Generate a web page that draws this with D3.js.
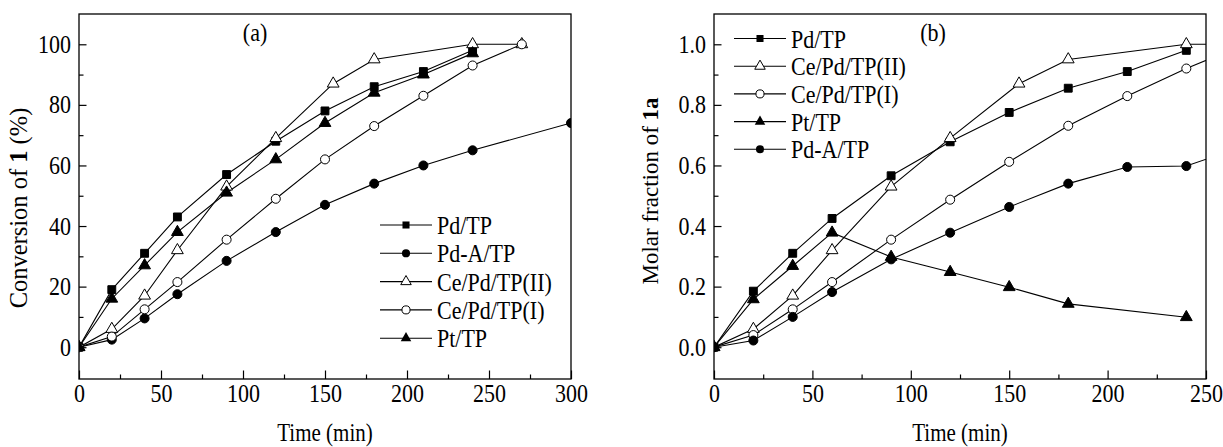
<!DOCTYPE html>
<html>
<head>
<meta charset="utf-8">
<script src="https://cdn.jsdelivr.net/npm/d3@7"></script>
<style>
  body { margin: 0; background: #fff; }
  svg { font-family: "Liberation Serif", "Times New Roman", serif; }
</style>
</head>
<body>
<svg id="chart" width="1223" height="447"></svg>
<script>
// ---- panel (a): conversion of 1 (%) ----
var timeA     = [0, 20, 40, 60, 90, 120, 150, 180, 210, 240];
var pdTP_a    = [0, 19, 31, 43, 57, 68, 78, 86, 91, 98];
var ptTP_a    = [0, 16, 27, 38, 51, 62, 74, 84, 90, 97];
var ceII_a_t  = [0, 20, 40, 60, 90, 120, 155, 180, 240, 270];
var ceII_a    = [0, 6, 17, 32, 53, 69, 87, 95, 100, 100];
var ceI_a_t   = [0, 20, 40, 60, 90, 120, 150, 180, 210, 240, 270];
var ceI_a     = [0, 3.5, 12.5, 21.5, 35.5, 49, 62, 73, 83, 93, 100];
var pdA_a_t   = [0, 20, 40, 60, 90, 120, 150, 180, 210, 240, 300];
var pdA_a     = [0, 2.5, 9.5, 17.5, 28.5, 38, 47, 54, 60, 65, 74];

// ---- panel (b): molar fraction of 1a ----
var timeB     = [0, 20, 40, 60, 90, 120, 150, 180, 210, 240];
var pdTP_b    = [0, 0.185, 0.31, 0.425, 0.566, 0.678, 0.775, 0.855, 0.91, 0.98];
var ceII_b_t  = [0, 20, 40, 60, 90, 120, 155, 180, 240, 270];
var ceII_b    = [0, 0.06, 0.17, 0.32, 0.53, 0.69, 0.87, 0.95, 1.0, 1.0];
var ceI_b_t   = [0, 20, 40, 60, 90, 120, 150, 180, 210, 240, 270];
var ceI_b     = [0, 0.04, 0.125, 0.215, 0.355, 0.487, 0.612, 0.731, 0.829, 0.92, 1.0];
var ptTP_b_t  = [0, 20, 40, 60, 90, 120, 150, 180, 240];
var ptTP_b    = [0, 0.158, 0.268, 0.378, 0.298, 0.248, 0.198, 0.143, 0.099];
var pdA_b_t   = [0, 20, 40, 60, 90, 120, 150, 180, 210, 240, 270];
var pdA_b     = [0, 0.022, 0.1, 0.182, 0.29, 0.378, 0.463, 0.54, 0.595, 0.598, 0.665];

// tick labels
var xTicksA = [0, 50, 100, 150, 200, 250, 300];
var yTicksA = [0, 20, 40, 60, 80, 100];
var xTicksB = [0, 50, 100, 150, 200, 250];
var yTicksB = [0, 0.2, 0.4, 0.6, 0.8, 1.0];

var svg = d3.select('#chart');
var fontSize = 22;
var stretch = 1.15; // the source figure's lettering is a bit taller than wide

// marker styles
var markers = {
    square:    {type: d3.symbolSquare, size: 62, fill: '#000'},
    circle:    {type: d3.symbolCircle, size: 64, fill: '#000'},
    triUp:     {type: d3.symbolTriangle, size: 60, fill: '#000'},
    openTri:   {type: d3.symbolTriangle, size: 60, fill: '#fff'},
    openCirc:  {type: d3.symbolCircle, size: 64, fill: '#fff'}
};

function zip(ts, vs) {
    return ts.map(function (t, i) { return {t: t, v: vs[i]}; });
}

// text placed at (x, y) and stretched vertically
function tallText(parent, x, y, sy) {
    return parent.append('text')
        .attr('transform', 'translate(' + x + ',' + y + ') scale(1,' + sy + ')')
        .attr('font-size', fontSize)
        .attr('fill', '#000');
}

function styleTicks(s) {
    s.select('.domain').remove();
    s.selectAll('text')
        .attr('font-size', fontSize)
        .attr('font-family', 'Liberation Serif')
        .attr('fill', '#000')
        .attr('transform', 'scale(1,' + stretch + ')');
}

function drawPanel(cfg) {
    var g = svg.append('g');
    var x = d3.scaleLinear().domain(cfg.xDomain).range([cfg.left, cfg.right]);
    var y = d3.scaleLinear().domain(cfg.yDomain).range([cfg.bottom, cfg.top]);

    var clipId = 'clip-' + cfg.id;
    svg.append('clipPath').attr('id', clipId)
        .append('rect')
        .attr('x', cfg.left).attr('y', cfg.top)
        .attr('width', cfg.right - cfg.left).attr('height', cfg.bottom - cfg.top);

    // minor ticks
    g.append('g')
        .attr('transform', 'translate(0,' + cfg.bottom + ')')
        .call(d3.axisBottom(x).tickValues(cfg.xMinor).tickSizeInner(-4.5).tickSizeOuter(0).tickFormat(''))
        .call(function (s) { s.select('.domain').remove(); });
    g.append('g')
        .attr('transform', 'translate(' + cfg.left + ',0)')
        .call(d3.axisLeft(y).tickValues(cfg.yMinor).tickSizeInner(-4.5).tickSizeOuter(0).tickFormat(''))
        .call(function (s) { s.select('.domain').remove(); });

    // major ticks + labels
    g.append('g')
        .attr('transform', 'translate(0,' + cfg.bottom + ')')
        .call(d3.axisBottom(x).tickValues(cfg.xTicks).tickSizeInner(-8.5).tickSizeOuter(0).tickPadding(4))
        .call(styleTicks);
    g.append('g')
        .attr('transform', 'translate(' + cfg.left + ',0)')
        .call(d3.axisLeft(y).tickValues(cfg.yTicks).tickSizeInner(-7.5).tickSizeOuter(0).tickPadding(8)
            .tickFormat(cfg.yFormat))
        .call(styleTicks);
    g.selectAll('.tick line').attr('stroke', '#000').attr('stroke-width', 1.2);

    // series
    var line = d3.line().x(function (d) { return x(d.t); }).y(function (d) { return y(d.v); });
    var plot = g.append('g').attr('clip-path', 'url(#' + clipId + ')');
    cfg.series.forEach(function (s) {
        plot.append('path')
            .datum(zip(s.t, s.v))
            .attr('d', line)
            .attr('fill', 'none')
            .attr('stroke', '#000')
            .attr('stroke-width', 1.1);
    });
    cfg.series.forEach(function (s) {
        var m = markers[s.marker];
        plot.selectAll(null)
            .data(zip(s.t, s.v))
            .enter()
            .append('path')
            .attr('d', d3.symbol().type(m.type).size(m.size))
            .attr('transform', function (d) { return 'translate(' + x(d.t) + ',' + y(d.v) + ')'; })
            .attr('fill', m.fill)
            .attr('stroke', '#000')
            .attr('stroke-width', 1);
    });

    // frame
    g.append('rect')
        .attr('x', cfg.left).attr('y', cfg.top)
        .attr('width', cfg.right - cfg.left).attr('height', cfg.bottom - cfg.top)
        .attr('fill', 'none').attr('stroke', '#000').attr('stroke-width', 1.3);

    // legend
    cfg.legendOrder.forEach(function (name, i) {
        var s = cfg.series.filter(function (d) { return d.name === name; })[0];
        var m = markers[s.marker];
        var ly = cfg.legendY + i * cfg.legendStep;
        var lx = cfg.legendX;
        g.append('line').attr('x1', lx).attr('x2', lx + 52).attr('y1', ly).attr('y2', ly)
            .attr('stroke', '#000').attr('stroke-width', 1.1);
        g.append('path')
            .attr('d', d3.symbol().type(m.type).size(m.size * 0.8))
            .attr('transform', 'translate(' + (lx + 26) + ',' + ly + ')')
            .attr('fill', m.fill).attr('stroke', m.fill === '#fff' ? '#000' : 'none')
            .attr('stroke-width', 1);
        tallText(g, lx + 57, ly + 9, stretch).text(name);
    });

    // panel tag
    tallText(g, cfg.tagX, 41, stretch)
        .attr('text-anchor', 'middle')
        .text(cfg.tag);

    // axis titles
    tallText(g, (cfg.left + cfg.right) / 2, 441, stretch)
        .attr('text-anchor', 'middle')
        .attr('font-size', 21)
        .text('Time (min)');

    var yl = g.append('text')
        .attr('transform', 'translate(' + cfg.yLabelX + ',' + cfg.yLabelY + ') rotate(-90)')
        .attr('text-anchor', 'middle')
        .attr('font-size', cfg.yLabelSize);
    cfg.yLabel.forEach(function (part) {
        yl.append('tspan').attr('font-weight', part.bold ? 'bold' : 'normal').text(part.text);
    });
}

drawPanel({
    id: 'a', left: 79, right: 571, top: 14, bottom: 379,
    xDomain: [0, 300], yDomain: [-10.5, 110],
    xTicks: xTicksA, yTicks: yTicksA,
    xMinor: [25, 75, 125, 175, 225, 275],
    yMinor: [10, 30, 50, 70, 90],
    yFormat: d3.format('d'),
    series: [
        {name: 'Pd/TP', t: timeA, v: pdTP_a, marker: 'square'},
        {name: 'Pd-A/TP', t: pdA_a_t, v: pdA_a, marker: 'circle'},
        {name: 'Ce/Pd/TP(II)', t: ceII_a_t, v: ceII_a, marker: 'openTri'},
        {name: 'Ce/Pd/TP(I)', t: ceI_a_t, v: ceI_a, marker: 'openCirc'},
        {name: 'Pt/TP', t: timeA, v: ptTP_a, marker: 'triUp'}
    ],
    legendOrder: ['Pd/TP', 'Pd-A/TP', 'Ce/Pd/TP(II)', 'Ce/Pd/TP(I)', 'Pt/TP'],
    legendX: 380, legendY: 225, legendStep: 28.3,
    tag: '(a)', tagX: 255,
    yLabelX: 27, yLabelY: 208, yLabelSize: 24.5,
    yLabel: [{text: 'Conversion of '}, {text: '1', bold: true}, {text: ' (%)'}]
});

drawPanel({
    id: 'b', left: 714, right: 1206, top: 14, bottom: 379,
    xDomain: [0, 250], yDomain: [-0.105, 1.10],
    xTicks: xTicksB, yTicks: yTicksB,
    xMinor: [25, 75, 125, 175, 225],
    yMinor: [0.1, 0.3, 0.5, 0.7, 0.9],
    yFormat: d3.format('.1f'),
    series: [
        {name: 'Pd/TP', t: timeB, v: pdTP_b, marker: 'square'},
        {name: 'Ce/Pd/TP(II)', t: ceII_b_t, v: ceII_b, marker: 'openTri'},
        {name: 'Ce/Pd/TP(I)', t: ceI_b_t, v: ceI_b, marker: 'openCirc'},
        {name: 'Pt/TP', t: ptTP_b_t, v: ptTP_b, marker: 'triUp'},
        {name: 'Pd-A/TP', t: pdA_b_t, v: pdA_b, marker: 'circle'}
    ],
    legendOrder: ['Pd/TP', 'Ce/Pd/TP(II)', 'Ce/Pd/TP(I)', 'Pt/TP', 'Pd-A/TP'],
    legendX: 734, legendY: 38.5, legendStep: 27.7,
    tag: '(b)', tagX: 933,
    yLabelX: 658, yLabelY: 191, yLabelSize: 23,
    yLabel: [{text: 'Molar fraction of '}, {text: '1a', bold: true}]
});
</script>
</body>
</html>
